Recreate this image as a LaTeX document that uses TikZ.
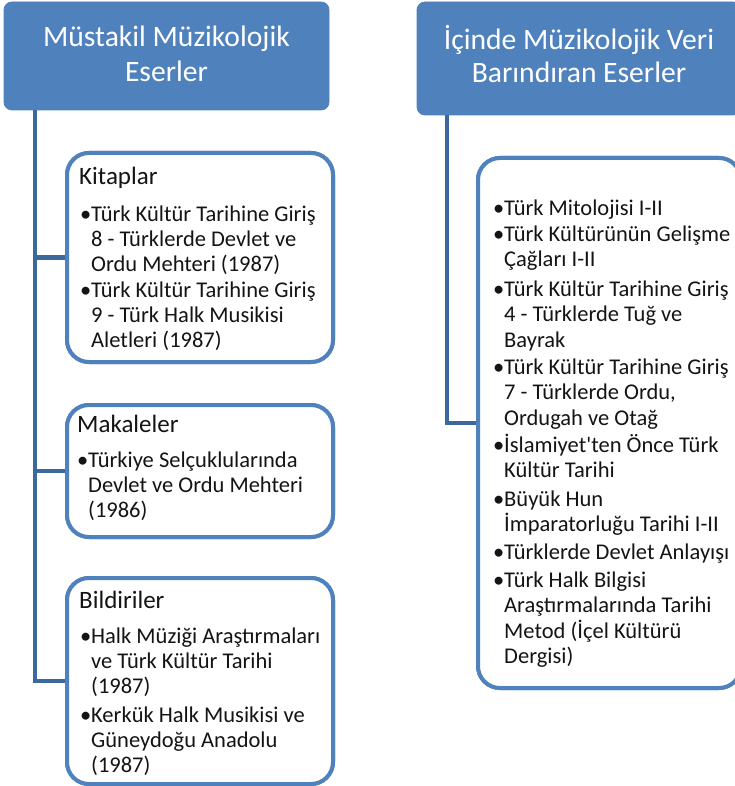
\documentclass[tikz,border=0pt]{standalone}
\usepackage{fontspec}
\setmainfont{Carlito}
\definecolor{hdrblue}{RGB}{79,129,189}
\definecolor{connblue}{RGB}{60,104,158}
\definecolor{txtc}{RGB}{20,20,20}
\newcommand\Lne[1]{\hbox{#1}}
\newcommand\LineBlock[2]{\vtop{\baselineskip=#1\lineskiplimit=-100pt\lineskip=0pt #2}}
\newcommand\CLne[1]{\hbox to 0pt{\hss#1\hss}}
\newcommand\Bul{\makebox[11pt][l]{\textbullet}}
\begin{document}
\begin{tikzpicture}[x=1pt,y=-1pt,
  hdr/.style={fill=hdrblue, draw=hdrblue, rounded corners=8pt, inner sep=0pt, line width=0.8pt},
  catbox/.style={draw=hdrblue, line width=4pt, fill=white, rounded corners=22pt, inner sep=0pt},
  conn/.style={draw=connblue, line width=4.5pt},
  hdrtext/.style={anchor=base, inner sep=0pt, text=white, font=\fontsize{29.6}{35}\selectfont},
  ttl/.style={anchor=base west, inner sep=0pt, text=txtc, font=\fontsize{25}{28}\selectfont},
  itm/.style={anchor=base west, inner sep=0pt, text=txtc, font=\fontsize{22.5}{25}\selectfont}]
\useasboundingbox (0,0) rectangle (735,786);
\clip (0,0) rectangle (735,786);

% header boxes
\node[hdr, minimum width=325pt, minimum height=108pt] (lh) at (166.5,56) {};
\node[hdr, minimum width=324pt, minimum height=113pt] (rh) at (579,58.5) {};
\node[hdrtext] (lht) at (166.5,46.7) {\LineBlock{35pt}{\CLne{Müstakil Müzikolojik}\CLne{Eserler}}};
\node[hdrtext] (rht) at (579,50) {\LineBlock{33pt}{\CLne{İçinde Müzikolojik Veri}\CLne{Barındıran Eserler}}};

% connector start points
\coordinate (lsTop) at (35,110);
\coordinate (rsTop) at (447,115);

% category boxes (shapes, for anchors)
\node[catbox, minimum width=266pt, minimum height=209pt] (kit) at (200,257.5) {};
\node[catbox, minimum width=266pt, minimum height=132pt] (mak) at (200,471) {};
\node[catbox, minimum width=266pt, minimum height=206pt] (bil) at (200,681) {};
\node[catbox, minimum width=263pt, minimum height=530pt] (rb) at (609.5,423) {};

% connectors
\draw[conn] (lsTop) |- (bil.west);
\draw[conn] (kit.west -| lsTop) -- (kit.west);
\draw[conn] (mak.west -| lsTop) -- (mak.west);
\draw[conn] (rsTop) |- (rb.west);
% boxes again on top of connector ends
\node[catbox, minimum width=266pt, minimum height=209pt] (kitT) at (kit) {};
\node[catbox, minimum width=266pt, minimum height=132pt] (makT) at (mak) {};
\node[catbox, minimum width=266pt, minimum height=206pt] (bilT) at (bil) {};
\node[catbox, minimum width=263pt, minimum height=530pt] (rbT) at (rb) {};

% Kitaplar
\node[ttl] (kt) at (79,185) {Kitaplar};
\node[itm] (k1) at (80,222) {\Bul\LineBlock{25pt}{\Lne{Türk Kültür Tarihine Giriş}\Lne{8 - Türklerde Devlet ve}\Lne{Ordu Mehteri (1987)}}};
\node[itm] (k2) at (80,297) {\Bul\LineBlock{25pt}{\Lne{Türk Kültür Tarihine Giriş}\Lne{9 - Türk Halk Musikisi}\Lne{Aletleri (1987)}}};

% Makaleler
\node[ttl] (mt) at (77,432) {Makaleler};
\node[itm] (m1) at (77,467) {\Bul\LineBlock{25pt}{\Lne{Türkiye Selçuklularında}\Lne{Devlet ve Ordu Mehteri}\Lne{(1986)}}};

% Bildiriler
\node[ttl] (bt) at (79,608) {Bildiriler};
\node[itm] (b1) at (80,643) {\Bul\LineBlock{25pt}{\Lne{Halk Müziği Araştırmaları}\Lne{ve Türk Kültür Tarihi}\Lne{(1987)}}};
\node[itm] (b2) at (80,722) {\Bul\LineBlock{25pt}{\Lne{Kerkük Halk Musikisi ve}\Lne{Güneydoğu Anadolu}\Lne{(1987)}}};

% right list
\node[itm] (r1) at (493,215) {\Bul\LineBlock{25.5pt}{\Lne{Türk Mitolojisi I-II}}};
\node[itm] (r2) at (493,241) {\Bul\LineBlock{25.5pt}{\Lne{Türk Kültürünün Gelişme}\Lne{Çağları I-II}}};
\node[itm] (r3) at (493,296) {\Bul\LineBlock{25.5pt}{\Lne{Türk Kültür Tarihine Giriş}\Lne{4 - Türklerde Tuğ ve}\Lne{Bayrak}}};
\node[itm] (r4) at (493,374) {\Bul\LineBlock{25.5pt}{\Lne{Türk Kültür Tarihine Giriş}\Lne{7 - Türklerde Ordu,}\Lne{Ordugah ve Otağ}}};
\node[itm] (r5) at (493,452) {\Bul\LineBlock{25.5pt}{\Lne{İslamiyet\textquotesingle ten Önce Türk}\Lne{Kültür Tarihi}}};
\node[itm] (r6) at (493,506) {\Bul\LineBlock{25.5pt}{\Lne{Büyük Hun}\Lne{İmparatorluğu Tarihi I-II}}};
\node[itm] (r7) at (493,559) {\Bul\LineBlock{25.5pt}{\Lne{Türklerde Devlet Anlayışı}}};
\node[itm] (r8) at (493,587) {\Bul\LineBlock{25.5pt}{\Lne{Türk Halk Bilgisi}\Lne{Araştırmalarında Tarihi}\Lne{Metod (İçel Kültürü}\Lne{Dergisi)}}};
\end{tikzpicture}
\end{document}
